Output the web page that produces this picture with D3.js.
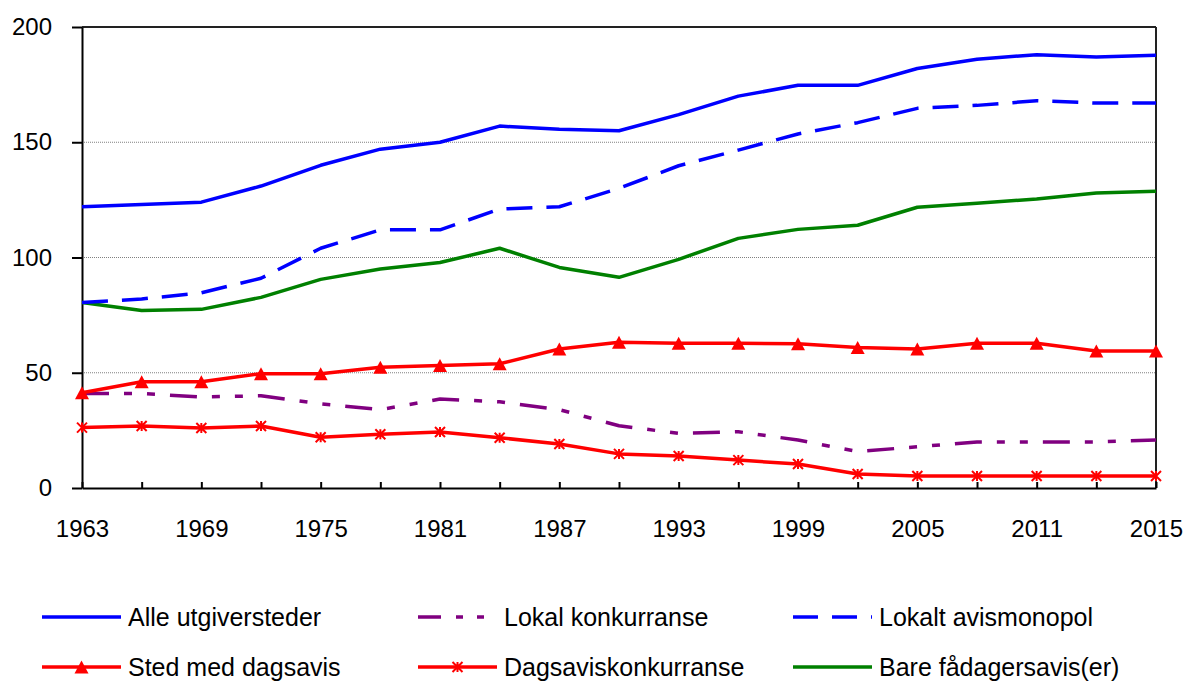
<!DOCTYPE html>
<html>
<head>
<meta charset="utf-8">
<script src="https://cdn.jsdelivr.net/npm/d3@7"></script>
<style>
  html, body { margin: 0; padding: 0; background: #fff; }
  svg { display: block; font-family: "Liberation Sans", Arial, sans-serif; }
</style>
</head>
<body>
<svg id="chart" width="1185" height="682"></svg>
<script>
// ---- Data ----
const years = ["1963","1966","1969","1972","1975","1978","1981","1984","1987","1990","1993","1996","1999","2002","2005","2008","2011","2013","2015"];
const tickYears = ["1963","1969","1975","1981","1987","1993","1999","2005","2011","2015"];
const yTicks = [0, 50, 100, 150, 200];

const alleUtgiversteder   = [122, 123, 124, 131, 140, 147, 150, 157, 155.6, 155, 162, 170, 174.7, 174.7, 182, 186, 188, 187, 187.7];
const lokalKonkurranse    = [41, 41, 39.5, 40, 36.5, 34, 38.6, 37.4, 34, 27, 23.7, 24.4, 20.8, 15.8, 17.9, 20, 20, 20, 20.8];
const lokaltAvismonopol   = [80.5, 82, 84.7, 91, 104, 112, 112, 121, 122, 130, 139.8, 146.6, 153.6, 158.5, 164.7, 166, 168, 167, 167];
const stedMedDagsavis     = [41.3, 46.1, 46.1, 49.6, 49.6, 52.4, 53.1, 53.9, 60.3, 63.2, 62.8, 62.8, 62.6, 61, 60.3, 62.8, 62.8, 59.4, 59.4];
const dagsaviskonkurranse = [26.2, 26.9, 26, 26.9, 22, 23.3, 24.3, 21.8, 19.1, 14.8, 13.9, 12.1, 10.4, 6.1, 5.2, 5.2, 5.2, 5.2, 5.2];
const bareFadagersavis    = [80.5, 77, 77.5, 82.7, 90.5, 95, 97.8, 104, 95.7, 91.4, 99.2, 108.3, 112.2, 114, 121.8, 123.5, 125.4, 128, 128.7];

const seriesNames = ["Alle utgiversteder","Lokal konkurranse","Lokalt avismonopol","Sted med dagsavis","Dagsaviskonkurranse","Bare fådagersavis(er)"];
const seriesValues = [alleUtgiversteder, lokalKonkurranse, lokaltAvismonopol, stedMedDagsavis, dagsaviskonkurranse, bareFadagersavis];
const seriesColors = ["#0000ff","#800080","#0000ff","#ff0000","#ff0000","#008000"];
const seriesDash   = [null, "27,15,8,15,8,15", "26,14", null, null, null];
const seriesMarker = [null, null, null, "triangle", "star", null];

// ---- Layout ----
const svg = d3.select("#chart");
const plotLeft = 82, plotRight = 1156, plotTop = 27, plotBottom = 488;

const x = d3.scalePoint().domain(years).range([plotLeft, plotRight]).padding(0);
const y = d3.scaleLinear().domain([0, 200]).range([plotBottom, plotTop]);

// gridlines
svg.append("g").selectAll("line").data(yTicks.filter(d => d > 0 && d < 200)).join("line")
  .attr("x1", plotLeft).attr("x2", plotRight)
  .attr("y1", d => y(d)).attr("y2", d => y(d))
  .attr("stroke", "#808080").attr("stroke-width", 1).attr("stroke-dasharray", "1,1");

// frame top and right
svg.append("line").attr("x1", plotLeft).attr("x2", plotRight).attr("y1", y(200)).attr("y2", y(200))
  .attr("stroke", "#222").attr("stroke-width", 2);
svg.append("line").attr("x1", plotRight).attr("x2", plotRight).attr("y1", y(200)).attr("y2", plotBottom)
  .attr("stroke", "#222").attr("stroke-width", 2);

// y axis
const yAxis = svg.append("g").attr("transform", `translate(${plotLeft},0)`)
  .call(d3.axisLeft(y).tickValues(yTicks).tickSize(10).tickPadding(20).tickSizeOuter(0));
yAxis.select(".domain").attr("stroke", "#000").attr("stroke-width", 2);
yAxis.selectAll(".tick line").attr("stroke", "#000").attr("stroke-width", 2);
yAxis.selectAll(".tick text").attr("font-size", 24).attr("fill", "#000")
  .attr("font-family", "'Liberation Sans', Arial, sans-serif");

// x axis (ticks inward)
const xAxis = svg.append("g").attr("transform", `translate(0,${plotBottom})`)
  .call(d3.axisBottom(x).tickSize(-6).tickSizeOuter(0).tickFormat(d => tickYears.includes(d) ? d : ""));
xAxis.select(".domain").attr("stroke", "#000").attr("stroke-width", 2);
xAxis.selectAll(".tick line").attr("stroke", "#000").attr("stroke-width", 2);
xAxis.selectAll(".tick text").attr("font-size", 24).attr("fill", "#000").attr("y", 49).attr("dy", 0)
  .attr("font-family", "'Liberation Sans', Arial, sans-serif");

// markers
function drawMarker(g, type, cx, cy, color, scale) {
  const s = scale || 1;
  if (type === "triangle") {
    const w = 14 * s, h = 13 * s;
    g.append("path")
      .attr("d", `M${cx},${cy - h/2} L${cx + w/2},${cy + h/2} L${cx - w/2},${cy + h/2} Z`)
      .attr("fill", color);
  } else if (type === "star") {
    const r = 5 * s;
    const p = `M${cx},${cy - r} L${cx},${cy + r} M${cx - r},${cy - r} L${cx + r},${cy + r} M${cx - r},${cy + r} L${cx + r},${cy - r}`;
    g.append("path").attr("d", p).attr("stroke", color).attr("stroke-width", 2).attr("fill", "none");
  }
}

// lines
const line = d3.line().x((d, i) => x(years[i])).y(d => y(d));
const order = [5, 2, 0, 1, 4, 3];
order.forEach(si => {
  const g = svg.append("g");
  const p = g.append("path").datum(seriesValues[si])
    .attr("d", line)
    .attr("fill", "none")
    .attr("stroke", seriesColors[si])
    .attr("stroke-width", 3.5)
    .attr("stroke-linejoin", "round");
  if (seriesDash[si]) p.attr("stroke-dasharray", seriesDash[si]);
  if (seriesMarker[si]) {
    seriesValues[si].forEach((v, i) => drawMarker(g, seriesMarker[si], x(years[i]), y(v), seriesColors[si]));
  }
});

// legend
const legendCols = [42, 418, 793];
const legendRows = [617, 667];
const legend = svg.append("g");
seriesNames.forEach((name, si) => {
  const col = si % 3, row = Math.floor(si / 3);
  const lx = legendCols[col], ly = legendRows[row];
  const g = legend.append("g");
  const l = g.append("line").attr("x1", lx).attr("x2", lx + 79).attr("y1", ly).attr("y2", ly)
    .attr("stroke", seriesColors[si]).attr("stroke-width", 3.5);
  if (si === 1) l.attr("stroke-dasharray", "23,15,7,14,7,15");
  if (si === 2) l.attr("stroke-dasharray", "25,14");
  if (seriesMarker[si]) drawMarker(g, seriesMarker[si], lx + 39.5, ly, seriesColors[si]);
  g.append("text").attr("x", lx + 86).attr("y", ly + 8.5)
    .attr("font-size", 25).attr("fill", "#000").text(name);
});
</script>
</body>
</html>
